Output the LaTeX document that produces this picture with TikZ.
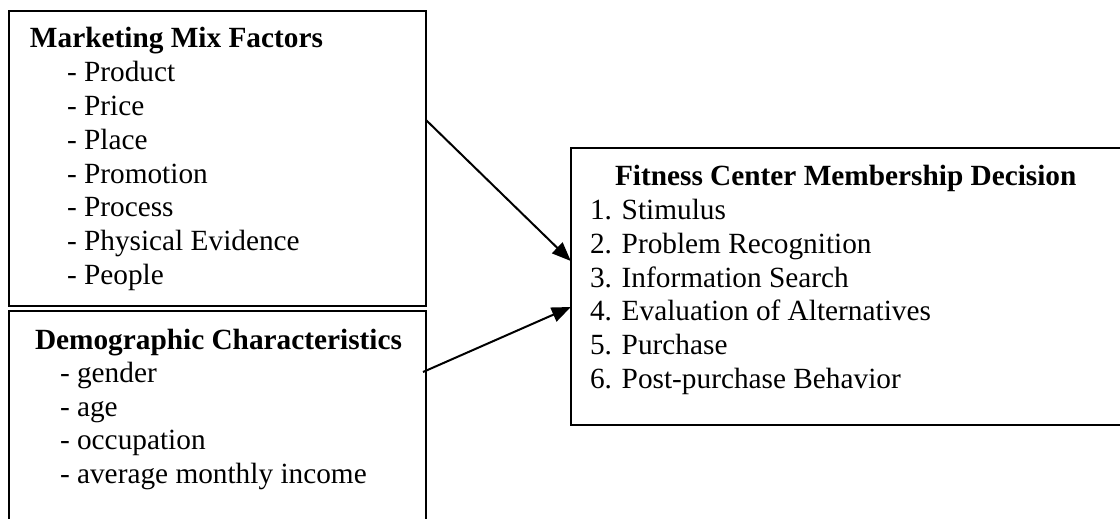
\documentclass[tikz,border=0pt]{standalone}
\usepackage{fontspec}
\setmainfont{Liberation Serif}
\usetikzlibrary{arrows.meta}
\tikzset{
  box/.style={draw=black, line width=1.6pt, fill=none},
  txt/.style={anchor=base west, inner sep=0pt, outer sep=0pt, font=\fontsize{29.3}{33.7}\selectfont},
  head/.style={txt, font=\fontsize{29.3}{33.7}\selectfont\bfseries},
  conn/.style={line width=2pt, -{Triangle[length=19pt,width=15pt]}}
}
\begin{document}
\begin{tikzpicture}[x=1pt,y=-1pt]
\useasboundingbox (0,0) rectangle (1120,519);
\clip (0,0) rectangle (1120,519);
% boxes
\draw[box] (9,11) rectangle (426,306);
\draw[box] (9,311) rectangle (426,540);
\draw[box] (571,148) rectangle (1130,425);
\node[inner sep=0pt, minimum width=559pt, minimum height=277pt] (fc) at (850.5,286.5) {};
% box 1 text
\node[head] (mh) at (30,48) {Marketing Mix Factors};
\foreach \t [count=\i] in {Product,Price,Place,Promotion,Process,Physical Evidence,People}
  \node[txt] (m\i) at (67,{48+33.75*\i}) {- \t};
% box 2 text
\node[head] (dh) at (35,349) {Demographic Characteristics};
\foreach \t [count=\i] in {gender,age,occupation,average monthly income}
  \node[txt] (d\i) at (60,{349+33.6*\i}) {- \t};
% box 3 text
\node[head] (fh) at (615,185) {Fitness Center Membership Decision};
\foreach \t [count=\i] in {Stimulus,Problem Recognition,Information Search,Evaluation of Alternatives,Purchase,Post-purchase Behavior}
  \node[txt] (f\i) at (590,{186+33.7*\i}) {\i. \t};
% connectors
\coordinate (s1) at (426,120);
\coordinate (s2) at (423,372);
\draw[conn] (s1) -- (fc.west |- 0,261);
\draw[conn] (s2) -- (fc.west |- 0,307);
\end{tikzpicture}
\end{document}
